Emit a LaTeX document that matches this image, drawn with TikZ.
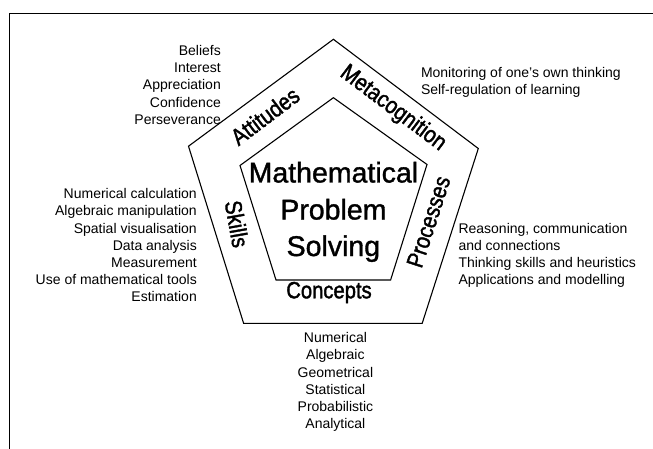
\documentclass[tikz,border=0pt]{standalone}
\usepackage{fontspec}
\setmainfont{Liberation Sans}
\newfontfamily\bandfont[FakeStretch=0.86,FakeBold=1.6]{Liberation Sans}
\newfontfamily\titlefont[FakeBold=1.2]{Liberation Sans}
\begin{document}
\begin{tikzpicture}[x=1pt,y=-1pt,
  listtext/.style={font=\fontsize{14}{17}\selectfont, inner sep=0pt},
  bandlabel/.style={font=\bandfont\fontsize{23.5}{27}\selectfont, inner sep=0pt},
  titletext/.style={font=\titlefont\fontsize{28.5}{37}\selectfont, inner sep=0pt, anchor=base},
  frameline/.style={line width=1.3pt},
  pent/.style={line width=1.1pt, line join=miter}]
\useasboundingbox (0,0) rectangle (653,449);
% frame (top and left edges only)
\coordinate (fTL) at (9.2,13.3);
\coordinate (fTR) at (653,13.3);
\coordinate (fBL) at (9.2,449);
\draw[frameline] (fTR) -- (fTL) -- (fBL);
% outer pentagon
\coordinate (o1) at (333.4,39.3);
\coordinate (o2) at (478.3,148.5);
\coordinate (o3) at (422.2,323.3);
\coordinate (o4) at (243.6,323.3);
\coordinate (o5) at (188.5,146.2);
\draw[pent] (o1) -- (o2) -- (o3) -- (o4) -- (o5) -- cycle;
% inner pentagon
\coordinate (i1) at (333.4,97.7);
\coordinate (i2) at (427,164.5);
\coordinate (i3) at (390.6,280);
\coordinate (i4) at (276,280);
\coordinate (i5) at (240,165.5);
\draw[pent] (i1) -- (i2) -- (i3) -- (i4) -- (i5) -- cycle;
% centre title
\node[titletext] (t1) at (333.4,182.5) {Mathematical};
\node[titletext] (t2) at (333.4,219.5) {Problem};
\node[titletext] (t3) at (333.4,256) {Solving};
% band labels
\node[bandlabel, rotate=37] (att) at (265,116) {Attitudes};
\node[bandlabel, rotate=-37] (meta) at (393,108.5) {Metacognition};
\node[bandlabel, rotate=-80] (skills) at (237,224) {Skills};
\node[bandlabel, rotate=72] (proc) at (428.5,221.7) {Processes};
\node[bandlabel, anchor=base] (conc) at (329,298.3) {Concepts};
% lists
\foreach \t [count=\i] in {Beliefs,Interest,Appreciation,Confidence,Perseverance}
  \node[listtext, anchor=base east] (attl\i) at (221,{55.8+17.08*(\i-1)}) {\t};
\foreach \t [count=\i] in {Monitoring of one’s own thinking,Self-regulation of learning}
  \node[listtext, anchor=base west] (metal\i) at (420.8,{77.8+17.2*(\i-1)}) {\t};
\foreach \t [count=\i] in {Numerical calculation,Algebraic manipulation,Spatial visualisation,Data analysis,Measurement,Use of mathematical tools,Estimation}
  \node[listtext, anchor=base east] (skl\i) at (197,{198.8+17.17*(\i-1)}) {\t};
\foreach \t [count=\i] in {{Reasoning, communication},and connections,Thinking skills and heuristics,Applications and modelling}
  \node[listtext, anchor=base west] (prl\i) at (458.3,{233.8+17.0*(\i-1)}) {\t};
\foreach \t [count=\i] in {Numerical,Algebraic,Geometrical,Statistical,Probabilistic,Analytical}
  \node[listtext, anchor=base] (col\i) at (335.4,{342.8+17.1*(\i-1)}) {\t};
\end{tikzpicture}
\end{document}
